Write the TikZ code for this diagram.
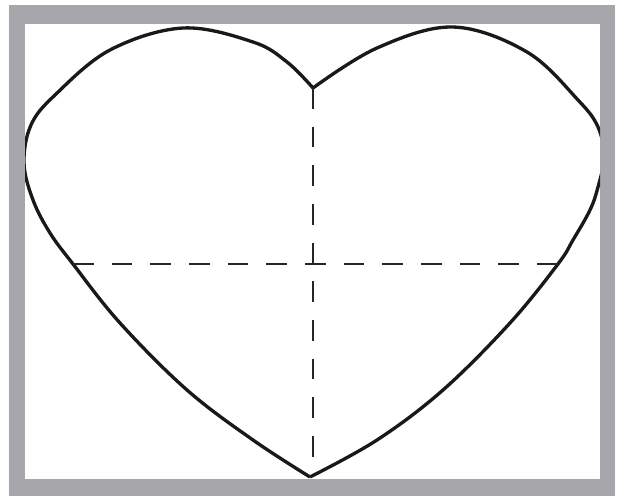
\documentclass[tikz,border=0pt]{standalone}
\definecolor{framegray}{RGB}{167,167,171}
\tikzset{
  heartline/.style={line width=2.5pt, line join=round, black!90},
  guide/.style={line width=2.2pt, black!85, dash pattern=on 15.5pt off 13.5pt}
}
\begin{document}
\begin{tikzpicture}[x=0.75pt,y=-0.75pt]
\useasboundingbox (0,0) rectangle (622,496);
\fill[framegray] (9,5) rectangle (615,496);
\fill[white] (25,24) rectangle (600,479);
\coordinate (notch) at (313,88);
\coordinate (tip) at (310,477);
\coordinate (hl) at (73,264);
\coordinate (hr) at (558,264);
\coordinate (vb) at (313,470);
\begin{scope}
\clip (25,24) rectangle (600,479);
\draw[heartline] plot[smooth, tension=0.6] coordinates {(313,88) (287,62) (253,42) (183,28) (110,50) (55,95) (31,125) (24,163) (33,200) (50,233) (73,264) (120,323) (187,390) (253,440) (310,477)};
\draw[heartline] plot[smooth, tension=0.6] coordinates {(313,88) (377,48) (453,27) (527,52) (578,100) (598,127) (604,157) (598,187) (590,210) (573,240) (558,264) (510,323) (443,390) (377,440) (310,477)};
\end{scope}
\draw[guide] (hl) -- (hr);
\draw[guide] (notch) -- (vb);
\end{tikzpicture}
\end{document}
